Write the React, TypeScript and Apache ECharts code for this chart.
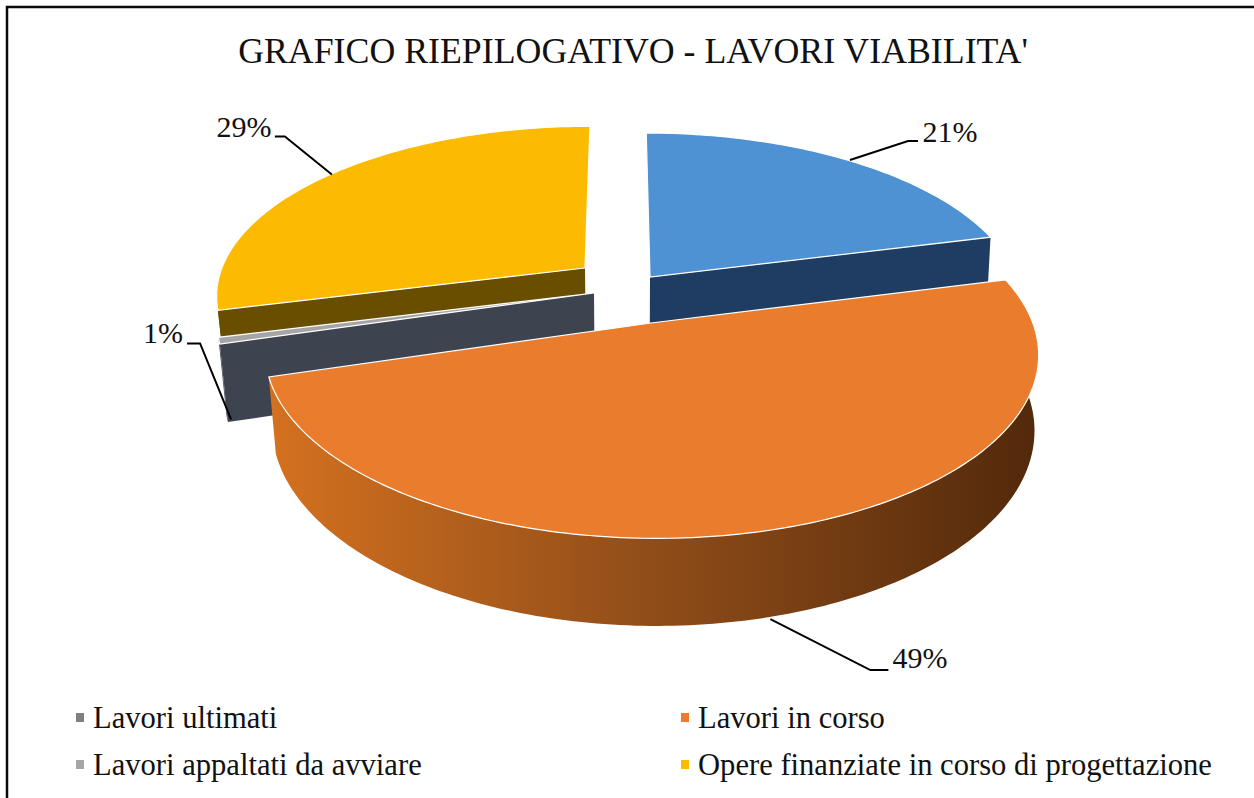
import React, { useEffect, useRef } from "react";
import * as echarts from "echarts";

const title = "GRAFICO RIEPILOGATIVO - LAVORI VIABILITA'";
const sliceOrder = ["Lavori ultimati", "Lavori in corso", "Lavori appaltati da avviare", "Opere finanziate in corso di progettazione"];
const sliceValues = [21, 49.4, 0.6, 29];
const sliceColors = ["#4f92d3", "#e97c2d", "#a5a5a5", "#fcbb00"];
const faceColors = ["#1f3d63", "#7a3f12", "#3d4450", "#6a4e00"];
const legendColors = ["#808080", "#e97c2d", "#a5a5a5", "#fcbb00"];

// layout of the tilted pie (projection and exploded apex of each slice)
const VX = 622, VY = -800, H = 1100, P = 0.1576, F = 374, CL = 0.02, CR = 0.01;
const thickness = [72, 72, 75, 72];
const apexes: [number, number][] = [[650, 277], [651, 323], [594, 293], [585, 268]];
const leaders: number[][][] = [
  [[58, -19], [68, -19]],
  [[100, 51], [118, 51]],
  [[-31, -76], [-44, -76]],
  [[-47, -38], [-57, -38]],
];
const leaderShift: [number, number][] = [[3, 0], [-5, 3], [4, 1], [6, -2]];
const labelPos: [number, number][] = [[950, 131], [920, 657], [163, 332], [244, 126]];

const total = sliceValues.reduce((a, b) => a + b, 0);
const starts: number[] = [];
sliceValues.reduce((acc, v, i) => { starts[i] = acc; return acc + (v / total) * 360; }, 0);

function project(i: number, u: number, v: number): [number, number] {
  const [ax, ay] = apexes[i];
  const wa = H / (ay - VY);
  const Ua = (ax - VX) * wa;
  const Va = (wa - 1) / P;
  const w = 1 + P * (Va + v);
  return [VX + (Ua + F * u) / w, VY + H / w];
}
function depth(i: number, v: number): number {
  const wa = H / (apexes[i][1] - VY);
  return wa + P * v;
}
function drop(i: number, p: [number, number], v: number): [number, number] {
  const c = p[0] > VX ? CR : CL;
  return [VX + (p[0] - VX) * (1 - c), p[1] + thickness[i] / depth(i, v)];
}
function rim(i: number, deg: number): [number, number] {
  const a = (deg * Math.PI) / 180;
  return project(i, Math.sin(a), Math.cos(a));
}
function rimDown(i: number, deg: number): [number, number] {
  const a = (deg * Math.PI) / 180;
  return drop(i, rim(i, deg), Math.cos(a));
}
function arc(from: number, to: number, fn: (d: number) => [number, number]) {
  const out: [number, number][] = [];
  const n = Math.max(2, Math.ceil(Math.abs(to - from)));
  for (let k = 0; k <= n; k++) out.push(fn(from + ((to - from) * k) / n));
  return out;
}

function renderSlice(i: number) {
  return (_params: any, api: any) => {
    const start = starts[i];
    const end = start + (api.value(0) / total) * 360;
    const children: any[] = [];
    const apex = project(i, 0, 0);
    const apexDown = drop(i, apex, 0);
    // radial cut face turned to the viewer
    const faceDeg = i === 0 ? end : i === 1 ? null : start;
    if (faceDeg !== null) {
      children.push({
        type: "polygon",
        shape: { points: [apex, rim(i, faceDeg), rimDown(i, faceDeg), apexDown] },
        style: { fill: faceColors[i] },
      });
    }
    // outer wall, for the part of the rim that faces the viewer
    const wf = Math.max(start, 90), wt = Math.min(end, 270);
    if (wt > wf) {
      const fill = i === 1
        ? new echarts.graphic.LinearGradient(0, 0, 1, 0, [
            { offset: 0, color: "#d4711f" },
            { offset: 0.45, color: "#96501a" },
            { offset: 1, color: "#52290b" },
          ])
        : faceColors[i];
      children.push({
        type: "polygon",
        shape: { points: [...arc(wf, wt, (d) => rim(i, d)), ...arc(wt, wf, (d) => rimDown(i, d))] },
        style: { fill },
      });
    }
    // top surface
    children.push({
      type: "polygon",
      shape: { points: [apex, ...arc(start, end, (d) => rim(i, d))] },
      style: { fill: sliceColors[i], stroke: "#ffffff", lineWidth: 1.2, lineJoin: "miter" },
    });
    // leader + percentage label
    const mid = (start + end) / 2;
    const anchor = i === 0 || i === 3 ? rim(i, mid) : rimDown(i, mid);
    const a0: [number, number] = [anchor[0] + leaderShift[i][0], anchor[1] + leaderShift[i][1]];
    children.push({
      type: "polyline",
      shape: { points: [a0, ...leaders[i].map((o) => [a0[0] + o[0], a0[1] + o[1]])] },
      style: { stroke: "#000000", lineWidth: 2, fill: "none" },
    });
    children.push({
      type: "text",
      style: {
        text: `${Math.round(api.value(0))}%`,
        x: labelPos[i][0],
        y: labelPos[i][1],
        fill: "#111111",
        font: '30px "Liberation Serif"',
        align: "center",
        verticalAlign: "middle",
      },
    });
    return { type: "group", children };
  };
}

const drawOrder = [3, 0, 2, 1];

export default function App() {
  const ref = useRef<HTMLDivElement>(null);
  useEffect(() => {
    document.body.style.margin = "0";
    document.body.style.background = "#ffffff";
    const chart = echarts.init(ref.current!, undefined, { renderer: "svg" });
    const legendStyle = {
      orient: "vertical" as const,
      icon: "rect",
      itemWidth: 8,
      itemHeight: 9,
      itemGap: 16,
      top: 697,
      textStyle: { fontFamily: "Liberation Serif", fontSize: 30.6, color: "#111111", padding: [0, 0, 0, 4] },
    };
    chart.setOption({
      animation: false,
      backgroundColor: "#ffffff",
      title: {
        text: title,
        left: 628,
        top: 28,
        textAlign: "center",
        textStyle: { fontFamily: "Liberation Serif", fontSize: 35.8, fontWeight: "normal", color: "#111111" },
      },
      legend: [
        { ...legendStyle, left: 71, data: [0, 2].map((i) => ({ name: sliceOrder[i], itemStyle: { color: legendColors[i] } })) },
        { ...legendStyle, left: 676, data: [1, 3].map((i) => ({ name: sliceOrder[i], itemStyle: { color: legendColors[i] } })) },
      ],
      graphic: [
        {
          type: "polyline",
          silent: true,
          shape: { points: [[7, 798], [7, 7], [1254, 7]] },
          style: { fill: "none", stroke: "#0a0a0a", lineWidth: 2.5 },
        },
      ],
      series: drawOrder.map((i, z) => ({
        type: "custom",
        name: sliceOrder[i],
        coordinateSystem: "none",
        z: z + 2,
        itemStyle: { color: legendColors[i] },
        data: [[sliceValues[i]]],
        renderItem: renderSlice(i),
      })),
    });
    return () => chart.dispose();
  }, []);
  return <div ref={ref} style={{ position: "fixed", left: 0, top: 0, width: 1254, height: 798 }} />;
}
